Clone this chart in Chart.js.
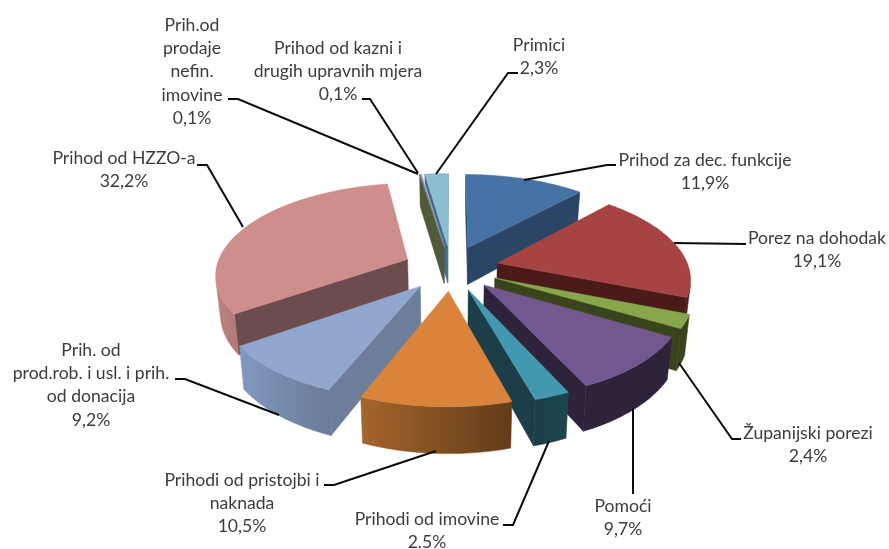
<!DOCTYPE html>
<html>
<head>
<meta charset="utf-8">
<style>html,body{margin:0;padding:0;background:#fff}canvas{display:block}</style>
<script src="https://cdn.jsdelivr.net/npm/chart.js@4"></script>
</head>
<body>
<canvas id="c" width="889" height="549"></canvas>
<script>
const categories = ["Prihod za dec. funkcije","Porez na dohodak","Županijski porezi","Pomoći","Prihodi od imovine","Prihodi od pristojbi i naknada","Prih. od prod.rob. i usl. i prih. od donacija","Prihod od HZZO-a","Prih.od prodaje nefin. imovine","Prihod od kazni i drugih upravnih mjera","Primici"];
const values = [11.9,19.1,2.4,9.7,2.5,10.5,9.2,32.2,0.1,0.1,2.3];
const valueLabels = ["11,9%","19,1%","2,4%","9,7%","2.5%","10,5%","9,2%","32,2%","0,1%","0,1%","2,3%"];

const topColors = ["#4672A6","#A54442","#88A64C","#72588F","#4198AF","#DA843B","#92A7CE","#CE8E8C","#8E7BA5","#C0C0C8","#8CBDD0"];
const radialColors = ["#2A4565","#4A1B19","#3A441C","#2E233B","#1B3E48","#6B4018","#6C7E9A","#6C4C4C","#4E5A38","#5A6070","#3F6F86"];
const outerLeft = ["#2A4565","#4A1B19","#3A441C","#2E233B","#1B3E48","#A5652B","#8298BF","#BD8280","#4E5A38","#5A6070","#3F6F86"];
const outerRight = ["#2A4565","#4A1B19","#3A441C","#2E233B","#1D4550","#613C1A","#697B98","#B07A78","#4E5A38","#5A6070","#3F6F86"];

/* label blocks: wrapped text, centre x, first line y, line step */
const labelLines = [
  ["Prihod za dec. funkcije"],["Porez na dohodak"],["Županijski porezi"],["Pomoći"],["Prihodi od imovine"],
  ["Prihodi od pristojbi i","naknada"],["Prih. od","prod.rob. i usl. i prih.","od donacija"],["Prihod od HZZO-a"],
  ["Prih.od","prodaje","nefin.","imovine"],["Prihod od kazni i","drugih upravnih mjera"],["Primici"]];
const labelX = [705,817,808,623,427,242,91,124,192,338,539];
const labelY = [160,238,433,506,519,480,350,158,25,48,45];
const leaders = [
  [[524,180],[607,165],[616,165]],
  [[674,243],[746,244]],
  [[679,363],[732,439],[741,439]],
  [[633,408],[633,494]],
  [[549,441],[513,525],[503,525]],
  [[436,451],[334,485],[324,485]],
  [[279,415],[185,379],[175,379]],
  [[243,227],[207,165],[197,165]],
  [[418,174],[238,99],[228,99]],
  [[418,173],[370,99],[362,99]],
  [[436,174],[508,73],[518,73]]];

/* projection of the tilted disc */
const CX = 451, CY = 268, RX = 191.5, RY = 90, PERSP = 6.6, DEPTH = 38, TAPER = 0.02, EXPLODE = 0.25;
function project(u, v, z) {
  const s = PERSP / (PERSP - v);
  return [CX + RX * u * s * (1 - TAPER * z), CY + RY * v * s + z * DEPTH * s];
}
function area(pts) {
  let a = 0;
  for (let i = 0; i < pts.length; i++) {
    const p = pts[i], q = pts[(i + 1) % pts.length];
    a += p[0] * q[1] - q[0] * p[1];
  }
  return a;
}
function fillPoly(ctx, pts, color) {
  ctx.beginPath();
  pts.forEach((p, i) => i ? ctx.lineTo(p[0], p[1]) : ctx.moveTo(p[0], p[1]));
  ctx.closePath();
  ctx.fillStyle = color;
  ctx.fill();
  ctx.strokeStyle = color;
  ctx.lineWidth = 0.5;
  ctx.stroke();
}

const pie3d = {
  id: 'pie3d',
  beforeDatasetsDraw(chart) {
    const ctx = chart.ctx;
    const arcs = chart.getDatasetMeta(0).data;
    const slices = arcs.map((arc, i) => {
      const a0 = arc.startAngle + Math.PI / 2, a1 = arc.endAngle + Math.PI / 2;
      const mid = (a0 + a1) / 2;
      return {i, a0, a1, du: EXPLODE * Math.sin(mid), dv: -EXPLODE * Math.cos(mid)};
    }).sort((a, b) => a.dv - b.dv);
    for (const sl of slices) {
      const {i, a0, a1, du, dv} = sl;
      const rim = [];
      const steps = Math.max(2, Math.ceil((a1 - a0) / (Math.PI / 180)));
      for (let k = 0; k <= steps; k++) {
        const t = a0 + (a1 - a0) * k / steps;
        rim.push([Math.sin(t) + du, -Math.cos(t) + dv]);
      }
      const apex = [du, dv];
      const P = (p, z) => project(p[0], p[1], z);
      const startWall = [P(apex,0), P(rim[0],0), P(rim[0],1), P(apex,1)];
      const last = rim[rim.length - 1];
      const endWall = [P(apex,0), P(last,0), P(last,1), P(apex,1)];
      if (area(startWall) < 0) fillPoly(ctx, startWall, radialColors[i]);
      if (area(endWall) > 0) fillPoly(ctx, endWall, radialColors[i]);
      /* outer wall: front-facing run of the rim */
      let run = [];
      const flush = () => {
        if (run.length > 1) {
          const poly = run.map(p => P(p,0)).concat(run.slice().reverse().map(p => P(p,1)));
          const xs = poly.map(p => p[0]);
          const g = ctx.createLinearGradient(Math.min(...xs), 0, Math.max(...xs), 0);
          g.addColorStop(0, outerLeft[i]);
          g.addColorStop(1, outerRight[i]);
          fillPoly(ctx, poly, g);
        }
        run = [];
      };
      for (let k = 0; k < rim.length - 1; k++) {
        const q = [P(rim[k],0), P(rim[k+1],0), P(rim[k+1],1), P(rim[k],1)];
        if (area(q) < 0) {
          if (!run.length) run.push(rim[k]);
          run.push(rim[k+1]);
        } else flush();
      }
      flush();
      fillPoly(ctx, [P(apex,0)].concat(rim.map(p => P(p,0))), topColors[i]);
    }
    return false;
  },
  afterDraw(chart) {
    const ctx = chart.ctx;
    ctx.save();
    ctx.strokeStyle = '#0a0a0a';
    ctx.lineWidth = 2;
    ctx.lineJoin = 'miter';
    leaders.forEach(l => {
      ctx.beginPath();
      l.forEach((p, i) => i ? ctx.lineTo(p[0], p[1]) : ctx.moveTo(p[0], p[1]));
      ctx.stroke();
    });
    ctx.fillStyle = '#3c3c3c';
    ctx.font = '17.6px Lato';
    ctx.textAlign = 'center';
    ctx.textBaseline = 'middle';
    categories.forEach((c, i) => {
      const lines = labelLines[i].concat([valueLabels[i]]);
      lines.forEach((t, k) => ctx.fillText(t, labelX[i], labelY[i] + k * 23.3));
    });
    ctx.restore();
  }
};

new Chart(document.getElementById('c'), {
  type: 'pie',
  data: {labels: categories, datasets: [{data: values, backgroundColor: topColors, borderWidth: 0}]},
  options: {
    responsive: false,
    animation: false,
    layout: {padding: 0},
    plugins: {legend: {display: false}, tooltip: {enabled: false}, title: {display: false}}
  },
  plugins: [pie3d]
});
</script>
</body>
</html>
